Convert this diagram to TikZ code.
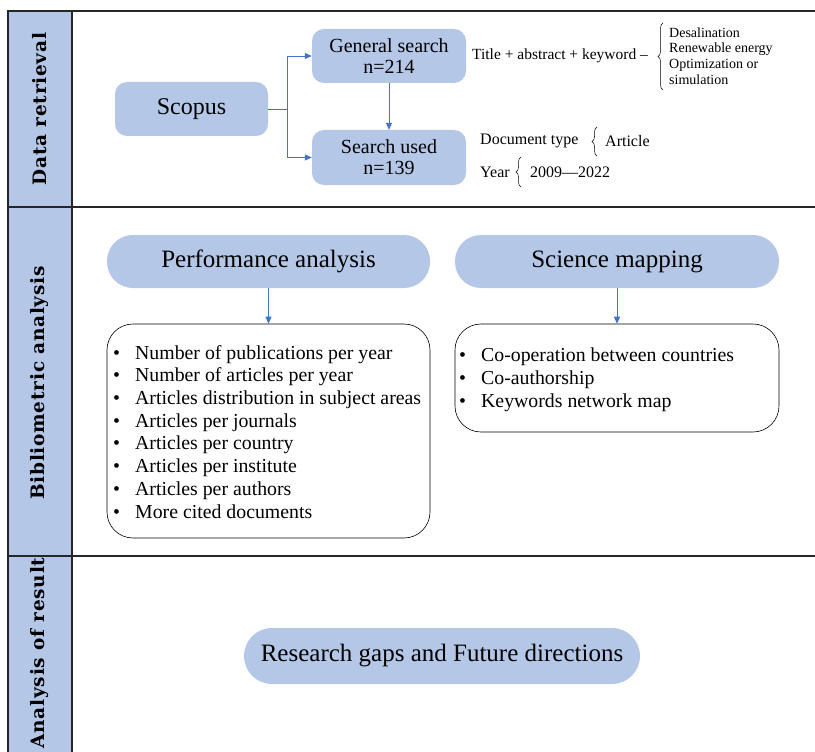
\documentclass[tikz,border=0pt]{standalone}
\usepackage{fontspec}
\setmainfont{Liberation Serif}
\newfontfamily\sidefont{DejaVu Serif Bold}[LetterSpace=4]
\usetikzlibrary{arrows.meta,decorations.pathreplacing}
\definecolor{boxblue}{HTML}{B4C7E7}
\definecolor{arrowblue}{HTML}{4472C4}

\begin{document}
\begin{tikzpicture}
  [x=1pt,y=-1pt,
   frame/.style={line width=2pt,black!85},
   bluebox/.style={rectangle,rounded corners=12pt,fill=boxblue,inner sep=0pt,align=center,
     font=\fontsize{20}{21}\selectfont},
   pillbox/.style={rectangle,rounded corners=26pt,fill=boxblue,inner sep=0pt,
     font=\fontsize{25}{28}\selectfont},
   listbox/.style={rectangle,draw=black,rounded corners=26pt,fill=white,line width=0.6pt},
   listtext/.style={anchor=north west,align=left,inner sep=0pt,font=\fontsize{19.8}{22.7}\selectfont},
   sidelabel/.style={rotate=90,font=\sidefont\fontsize{18.5}{21}\selectfont},
   flow/.style={arrowblue,line width=0.8pt,-{Triangle[length=7pt,width=6pt]}},
   smalltext/.style={anchor=west,inner sep=0pt,font=\fontsize{16}{18}\selectfont},
   curly/.style={decorate,decoration={brace,amplitude=5pt},line width=0.5pt}]
  \useasboundingbox (0,0) rectangle (815,752);

  % frame and side column
  \fill[boxblue] (8,11) rectangle (72,752);
  \draw[frame] (815,11) -- (8,11) -- (8,752);
  \draw[frame] (72,11) -- (72,752);
  \draw[frame] (8,207) -- (815,207);
  \draw[frame] (8,556) -- (815,556);

  \node[sidelabel] (lab1) at (40,109) {Data retrieval};
  \node[sidelabel] (lab2) at (40,383) {Bibliometric analysis};
  \node[sidelabel] (lab3) at (40,653) {Analysis of result};

  % data retrieval
  \node[bluebox,minimum width=153pt,minimum height=54pt,font=\fontsize{24}{26}\selectfont]
    (scopus) at (191.5,109) {Scopus};
  \node[bluebox,minimum width=154pt,minimum height=54pt] (general) at (389,56) {General search\\n=214};
  \node[bluebox,minimum width=154pt,minimum height=55pt] (used) at (389,157.5) {Search used\\n=139};
  \coordinate (split) at (287,109);

  \draw[arrowblue,line width=0.8pt] (scopus.east) -- (split);
  \draw[flow] (split) |- (general.west);
  \draw[flow] (split) |- (used.west);
  \draw[flow] (general.south) -- (used.north);

  \node[smalltext,font=\fontsize{15.5}{18}\selectfont] (keyword) at (472,56) {Title + abstract + keyword --};
  \draw[curly] (663,90) -- (663,23);
  \node[anchor=west,align=left,inner sep=0pt,font=\fontsize{14}{15.7}\selectfont]
    (topics) at (669,56) {Desalination\\Renewable energy\\Optimization or\\simulation};

  \node[smalltext] (doctype) at (480,141) {Document type};
  \draw[curly] (597,156) -- (597,127);
  \node[smalltext] (article) at (605,141) {Article};
  \node[smalltext] (year) at (480,172) {Year};
  \draw[curly] (521,187) -- (521,157);
  \node[smalltext] (range) at (530,172) {2009---2022};

  % bibliometric analysis
  \node[pillbox,minimum width=323pt,minimum height=53pt] (perf) at (268.5,261.5) {Performance analysis};
  \node[pillbox,minimum width=324pt,minimum height=53pt] (mapping) at (617,261.5) {Science mapping};
  \node[listbox,minimum width=323pt,minimum height=214pt] (perflist) at (268.5,431) {};
  \node[listbox,minimum width=324pt,minimum height=108pt] (maplist) at (617,378) {};

  \draw[flow] (perf.south) -- (perflist.north);
  \draw[flow] (mapping.south) -- (maplist.north);

  \node[listtext] (perfitems) at (113,345) {%
    \makebox[22pt][l]{\textbullet}Number of publications per year\\
    \makebox[22pt][l]{\textbullet}Number of articles per year\\
    \makebox[22pt][l]{\textbullet}Articles distribution in subject areas\\
    \makebox[22pt][l]{\textbullet}Articles per journals\\
    \makebox[22pt][l]{\textbullet}Articles per country\\
    \makebox[22pt][l]{\textbullet}Articles per institute\\
    \makebox[22pt][l]{\textbullet}Articles per authors\\
    \makebox[22pt][l]{\textbullet}More cited documents};
  \node[listtext] (mapitems) at (459,348) {%
    \makebox[22pt][l]{\textbullet}Co-operation between countries\\
    \makebox[22pt][l]{\textbullet}Co-authorship\\
    \makebox[22pt][l]{\textbullet}Keywords network map};

  % analysis of result
  \node[pillbox,minimum width=396pt,minimum height=56pt,rounded corners=28pt]
    (gaps) at (442,656) {Research gaps and Future directions};
\end{tikzpicture}
\end{document}
